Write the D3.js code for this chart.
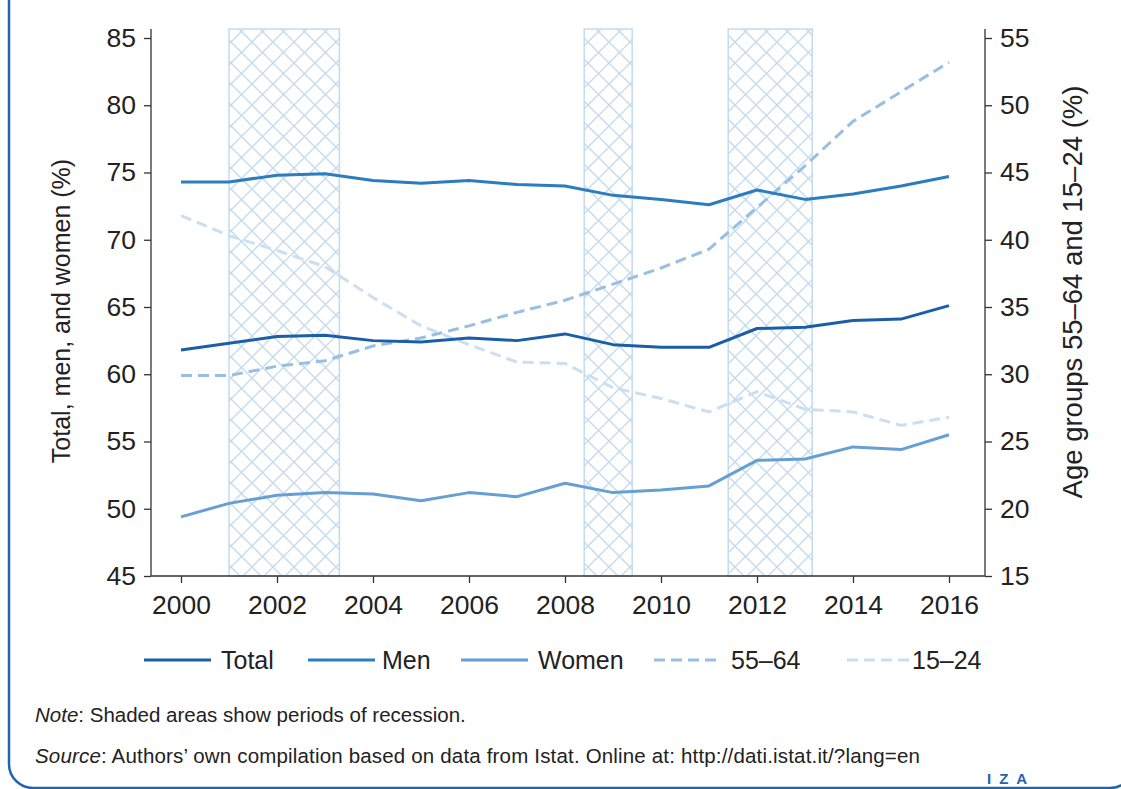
<!DOCTYPE html>
<html>
<head>
<meta charset="utf-8">
<script src="https://cdn.jsdelivr.net/npm/d3@7"></script>
<style>
  body { margin: 0; background: #fff; }
  svg { font-family: "Liberation Sans", Arial, sans-serif; }
  .axis path, .axis line { stroke: #333; stroke-width: 1.3; }
  .axis text { font-size: 26.5px; fill: #222; font-family: "Liberation Sans", Arial, sans-serif; }
  .y-label { fill: #222; text-anchor: middle; }
  .legend-text { font-size: 25px; fill: #222; }
  .note { font-size: 20.5px; fill: #222; }
</style>
</head>
<body>
<div id="chart"></div>
<script>
// data
let years = [2000, 2001, 2002, 2003, 2004, 2005, 2006, 2007, 2008, 2009, 2010, 2011, 2012, 2013, 2014, 2015, 2016];
let total = [61.8, 62.3, 62.8, 62.9, 62.5, 62.4, 62.7, 62.5, 63.0, 62.2, 62.0, 62.0, 63.4, 63.5, 64.0, 64.1, 65.1];
let men = [74.3, 74.3, 74.8, 74.9, 74.4, 74.2, 74.4, 74.1, 74.0, 73.3, 73.0, 72.6, 73.7, 73.0, 73.4, 74.0, 74.7];
let women = [49.4, 50.4, 51.0, 51.2, 51.1, 50.6, 51.2, 50.9, 51.9, 51.2, 51.4, 51.7, 53.6, 53.7, 54.6, 54.4, 55.5];
let age5564 = [29.9, 29.9, 30.6, 31.0, 32.1, 32.7, 33.6, 34.6, 35.5, 36.7, 37.9, 39.3, 42.4, 45.5, 48.8, 51.0, 53.2];
let age1524 = [41.8, 40.3, 39.2, 38.0, 35.7, 33.6, 32.2, 30.9, 30.8, 29.0, 28.2, 27.2, 28.7, 27.4, 27.2, 26.2, 26.8];
let recessions = [[2001.0, 2003.3], [2008.4, 2009.4], [2011.4, 2013.15]];
let xTicks = [2000, 2002, 2004, 2006, 2008, 2010, 2012, 2014, 2016];
let leftTicks = [45, 50, 55, 60, 65, 70, 75, 80, 85];
let rightTicks = [15, 20, 25, 30, 35, 40, 45, 50, 55];
let legendNames = ["Total", "Men", "Women", "55\u201364", "15\u201324"];

let totalWidth = 1121, totalHeight = 789;
let plotLeft = 151, plotRight = 985, plotTop = 38, plotBottom = 576;

let colors = {"Total": "#1b5ea8", "Men": "#2b7cc0", "Women": "#66a0d3", "55\u201364": "#98bfe2", "15\u201324": "#cbdff0"};
let hatchColor = "#c4dbee";

let svg = d3.select("#chart").append("svg")
    .attr("width", totalWidth)
    .attr("height", totalHeight);

// frame of the figure box
svg.append("rect")
    .attr("x", 9).attr("y", -30)
    .attr("width", 1125).attr("height", 818)
    .attr("rx", 24)
    .attr("fill", "none")
    .attr("stroke", "#1f64ae")
    .attr("stroke-width", 2.5);

// scales
const xScale = d3.scaleLinear()
    .domain([2000, 2016])
    .range([181, 949]);
const yLeft = d3.scaleLinear().domain([45, 85]).range([plotBottom, plotTop]);
const yRight = d3.scaleLinear().domain([15, 55]).range([plotBottom, plotTop]);

// hatch pattern for recessions
let defs = svg.append("defs");
let pat = defs.append("pattern")
    .attr("id", "hatch")
    .attr("patternUnits", "userSpaceOnUse")
    .attr("width", 21).attr("height", 21);
pat.append("path")
    .attr("d", "M0,0L21,21M21,0L0,21M-2,19L2,23M19,-2L23,2M-2,2L2,-2M19,23L23,19")
    .attr("stroke", hatchColor)
    .attr("stroke-width", 1.4)
    .attr("fill", "none");

svg.selectAll("rect.recession")
    .data(recessions)
    .enter()
    .append("rect")
    .attr("class", "recession")
    .attr("x", d => xScale(d[0]))
    .attr("y", 29)
    .attr("width", d => xScale(d[1]) - xScale(d[0]))
    .attr("height", plotBottom - 29)
    .attr("fill", "url(#hatch)")
    .attr("stroke", hatchColor)
    .attr("stroke-width", 1.5);

// series lines
let series = [
    {name: "15\u201324", values: age1524, scale: yRight, dashed: true},
    {name: "55\u201364", values: age5564, scale: yRight, dashed: true},
    {name: "Women", values: women, scale: yLeft, dashed: false},
    {name: "Men", values: men, scale: yLeft, dashed: false},
    {name: "Total", values: total, scale: yLeft, dashed: false}
];

series.forEach(s => {
    let line = d3.line()
        .x((d, i) => xScale(years[i]))
        .y(d => s.scale(d));
    svg.append("path")
        .datum(s.values)
        .attr("fill", "none")
        .attr("stroke", colors[s.name])
        .attr("stroke-width", 3)
        .attr("stroke-linejoin", "round")
        .attr("stroke-dasharray", s.dashed ? "11,6" : null)
        .attr("d", line);
});

// axes
let xAxis = d3.axisBottom(xScale).tickValues(xTicks).tickSize(7).tickPadding(8).tickFormat(d3.format("d"));
let gx = svg.append("g")
    .attr("class", "axis x-axis")
    .attr("transform", "translate(0," + plotBottom + ")")
    .call(xAxis);
gx.select(".domain").remove();
gx.append("line")
    .attr("x1", plotLeft).attr("x2", plotRight)
    .attr("stroke", "#333").attr("stroke-width", 1.3);
gx.selectAll(".tick text").attr("dy", "0.85em");

let leftAxis = d3.axisLeft(yLeft).tickValues(leftTicks).tickSize(7).tickPadding(8);
let gl = svg.append("g")
    .attr("class", "axis y-axis")
    .attr("transform", "translate(" + plotLeft + ",0)")
    .call(leftAxis);
gl.select(".domain").remove();
gl.append("line").attr("y1", 29).attr("y2", plotBottom).attr("stroke", "#333").attr("stroke-width", 1.3);

let rightAxis = d3.axisRight(yRight).tickValues(rightTicks).tickSize(7).tickPadding(8);
let gr = svg.append("g")
    .attr("class", "axis y-axis")
    .attr("transform", "translate(" + plotRight + ",0)")
    .call(rightAxis);
gr.select(".domain").remove();
gr.append("line").attr("y1", 29).attr("y2", plotBottom).attr("stroke", "#333").attr("stroke-width", 1.3);

// axis titles
svg.append("text")
    .attr("class", "y-label")
    .attr("font-size", 25)
    .attr("transform", "translate(70,311) rotate(-90)")
    .text("Total, men, and women (%)");

svg.append("text")
    .attr("class", "y-label")
    .attr("font-size", 27.5)
    .attr("transform", "translate(1082,292) rotate(-90)")
    .text("Age groups 55\u201364 and 15\u201324 (%)");

// legend
let legendX = [144, 308, 461, 654, 847];
let legendTextX = [221, 382, 538, 731, 912];
let legend = svg.append("g").attr("class", "legend");
legendNames.forEach((name, i) => {
    let dashed = i >= 3;
    legend.append("line")
        .attr("x1", legendX[i]).attr("x2", legendX[i] + 67)
        .attr("y1", 660).attr("y2", 660)
        .attr("stroke", colors[name])
        .attr("stroke-width", 3)
        .attr("stroke-dasharray", dashed ? "11,6" : null);
    legend.append("text")
        .attr("class", "legend-text")
        .attr("x", legendTextX[i])
        .attr("y", 669)
        .text(name);
});

// notes
let note = svg.append("text").attr("class", "note").attr("x", 35).attr("y", 722);
note.append("tspan").attr("font-style", "italic").text("Note");
note.append("tspan").text(": Shaded areas show periods of recession.");

let src = svg.append("text").attr("class", "note").attr("x", 35).attr("y", 763)
    .attr("textLength", 885).attr("lengthAdjust", "spacing");
src.append("tspan").attr("font-style", "italic").text("Source");
src.append("tspan").text(": Authors\u2019 own compilation based on data from Istat. Online at: http://dati.istat.it/?lang=en");

svg.append("text")
    .attr("x", 987).attr("y", 784)
    .attr("font-size", 15)
    .attr("font-weight", "bold")
    .attr("letter-spacing", 8)
    .attr("fill", "#1f64ae")
    .text("IZA");
</script>
</body>
</html>
